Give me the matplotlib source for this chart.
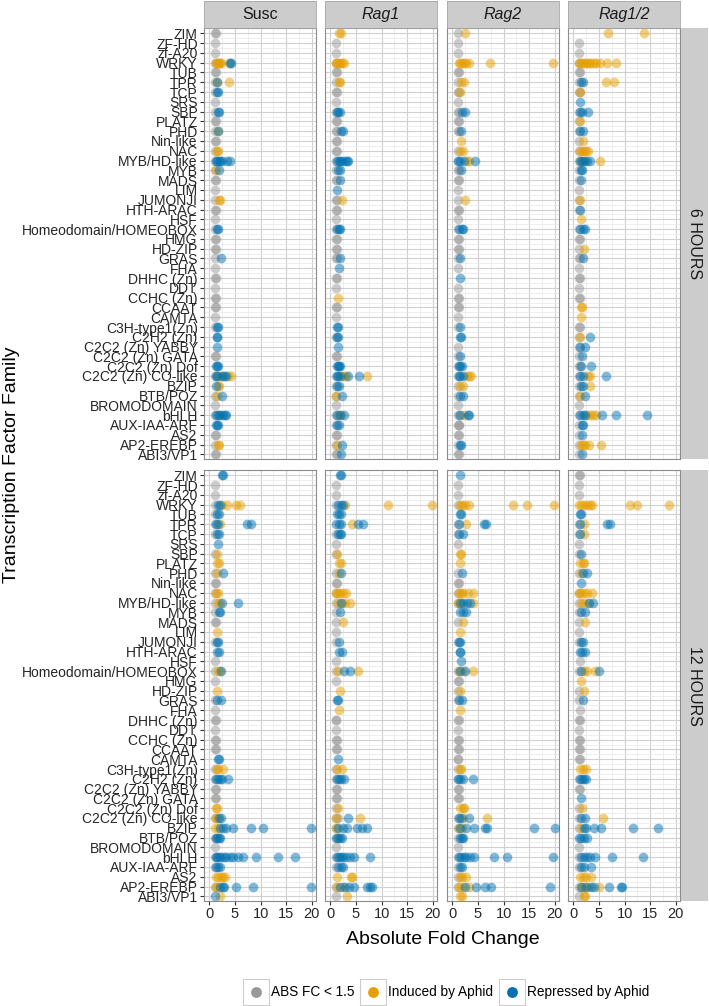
import numpy as np
import matplotlib
matplotlib.use("Agg")
import matplotlib.pyplot as plt
from matplotlib.patches import Rectangle
from matplotlib.lines import Line2D

plt.rcParams['font.family'] = ['Liberation Sans', 'DejaVu Sans']

#%% DATA
families = ['ZIM', 'ZF-HD', 'zf-A20', 'WRKY', 'TUB', 'TPR', 'TCP', 'SRS', 'SBP', 'PLATZ',
            'PHD', 'Nin-like', 'NAC', 'MYB/HD-like', 'MYB', 'MADS', 'LIM', 'JUMONJI',
            'HTH-ARAC', 'HSF', 'Homeodomain/HOMEOBOX', 'HMG', 'HD-ZIP', 'GRAS', 'FHA',
            'DHHC (Zn)', 'DDT', 'CCHC (Zn)', 'CCAAT', 'CAMTA', 'C3H-type1(Zn)', 'C2H2 (Zn)',
            'C2C2 (Zn) YABBY', 'C2C2 (Zn) GATA', 'C2C2 (Zn) Dof', 'C2C2 (Zn) CO-like', 'BZIP',
            'BTB/POZ', 'BROMODOMAIN', 'bHLH', 'AUX-IAA-ARF', 'AS2', 'AP2-EREBP', 'ABI3/VP1']
genotypes = ['Susc', 'Rag1', 'Rag2', 'Rag1/2']
timepoints = ['6 HOURS', '12 HOURS']
x_ticks = [0, 5, 10, 15, 20]

# one string per family: g = ABS FC < 1.5, o = induced, b = repressed (absolute fold change)
susc_6h = ["g:1.1,1.2", "g:1.1", "g:1.1", "g:1.1 o:1.2,1.4,1.6,1.8,2.0,2.2,3.8 b:4.0,4.3",
           "g:1.1,1.3", "g:1.1 o:1.5,3.8 b:1.5", "g:1.1 b:1.5,1.6", "g:1.1", "g:1.1 b:1.7,1.8",
           "g:1.1,1.3", "g:1.1 o:1.7 b:1.6", "g:1.1,1.2", "g:1.1 o:1.5,1.6",
           "g:1.1 b:1.2,1.5,1.8,2.1,2.4,3.5,4.0", "g:1.1 o:1.3 b:1.9", "g:1.1,1.3", "g:1.1",
           "g:1.1 o:1.8,2.1", "g:1.1,1.3", "g:1.1", "g:1.1 b:1.5,1.7", "g:1.1,1.3", "g:1.1,1.3",
           "g:1.1 b:2.3", "g:1.1", "g:1.1,1.3", "g:1.1", "g:1.1,1.3", "g:1.1,1.3", "g:1.1",
           "g:1.1 b:1.5,1.7", "b:1.4,1.5", "b:1.5", "g:1.1,1.3", "b:1.3,1.5,1.6",
           "g:1.1 o:1.6,2.0,3.7,4.2 b:1.2,1.5,2.4,2.9,3.3", "b:1.3 o:1.7,1.9",
           "g:1.1 o:1.4 b:2.4", "g:1.1", "g:1.1 o:1.9 b:1.2,1.6,2.1,2.6,3.0,3.3",
           "b:1.3,1.5,1.7", "g:1.1,1.3", "g:1.1 o:1.6,1.8", "g:1.1,1.3"]

rag1_6h = ["o:1.7,2.0", "g:1.0", "g:1.0", "g:1.0 o:1.0,1.3,1.6,1.9,2.2,2.6", "g:1.0,1.2",
           "g:1.0 o:1.7,1.9", "g:1.0,1.2", "g:1.0", "g:1.0 b:1.2,1.5,1.8", "g:1.0,1.2",
           "g:1.0,1.2 b:2.0,2.5", "g:1.0,1.2", "g:1.0,1.2", "g:1.0 b:1.3,1.6,1.9,2.3,2.8,3.2,3.4",
           "g:1.0 b:1.5,1.8", "g:1.0,1.2 b:1.9", "b:1.2", "g:1.0,1.2 o:2.2", "g:1.0,1.2", "g:1.0",
           "g:1.0 b:1.3,1.6,1.9", "g:1.0,1.2", "g:1.0,1.2", "g:1.0,1.2 b:1.9", "b:1.6", "g:1.0,1.2",
           "g:1.0", "o:1.4", "g:1.0,1.2", "g:1.0", "b:1.3,1.5", "g:1.0 b:1.3,1.5", "b:1.4",
           "g:1.0,1.2", "b:1.2,1.4,1.6,1.9", "g:1.0 o:2.2,2.6,3.0,7.2 b:1.2,1.5,1.9,3.4,5.6",
           "g:1.0 b:1.3,1.6", "g:1.0 o:1.1 b:2.2", "g:1.0", "g:1.0 o:1.6,2.1 b:1.3,1.9,2.6",
           "g:1.0 b:1.3,1.6", "g:1.0,1.2", "g:1.0 o:1.3 b:2.3", "g:1.0,1.2 b:2.0"]

rag2_6h = ["g:1.0 o:2.5", "g:1.0", "g:1.0", "o:1.2,1.5,1.8,2.2,2.6,3.2,7.4,19.7", "g:1.0,1.2",
           "g:1.0 o:1.6,2.2", "g:1.0,1.2 o:1.5", "g:1.0", "g:1.0,1.2 b:1.9,2.4", "g:1.0,1.2",
           "g:1.0,1.2 b:1.6", "o:1.6", "g:1.0 o:1.5,2.0", "g:1.0 o:2.9,3.3 b:1.0,1.5,2.3,4.5",
           "g:1.0,1.2 b:1.6", "g:1.0,1.2", "g:1.0", "g:1.0 o:2.5", "g:1.0,1.2", "g:1.0",
           "g:1.0 b:1.3,1.8,2.1", "g:1.0,1.2", "g:1.0,1.2", "g:1.0 b:1.4", "g:1.0", "b:1.4",
           "g:1.0", "g:1.0,1.2", "g:1.0,1.2", "g:1.0", "g:1.0 b:1.5", "b:1.4,1.6", "g:1.0",
           "g:1.0 b:1.5", "g:1.0 b:1.2,1.5,1.8", "g:1.0 o:2.8,3.3,3.7 b:1.2,1.5,2.1",
           "g:1.0 o:1.5,2.0", "g:1.0 b:1.5,2.0", "g:1.0", "g:1.0,1.2 o:2.2 b:1.5,3.1,3.2",
           "g:1.0,1.2,1.3", "g:1.0,1.2", "g:1.0 b:1.5,1.6", "g:1.0,1.2"]

rag12_6h = ["o:6.7,13.8", "g:1.0", "g:1.0",
            "g:1.0 o:1.1,1.5,1.9,2.3,2.7,3.1,3.5,4.0,4.5,5.2,6.5,8.4", "g:1.0,1.2",
            "g:1.0 o:6.4,8.0 b:1.4,1.8", "g:1.0,1.2 o:1.3", "b:1.3", "g:1.0 b:1.2,1.6,2.8",
            "g:1.0 o:1.3", "g:1.0 b:1.3,1.9", "g:1.0 o:1.9", "g:1.0 o:1.3,1.7,2.1,2.5,2.9",
            "g:1.0 o:1.5,2.3,5.2 b:1.2,1.6,2.1,2.7,3.3", "g:1.0 b:1.4,1.7", "g:1.0 b:1.4", "g:1.0",
            "g:1.0 o:1.3", "g:1.0 b:1.3", "o:1.4", "g:1.0 b:1.3,1.9,2.2", "g:1.0,1.2", "g:1.0 o:2.1",
            "g:1.0,1.2 b:1.8", "g:1.0", "g:1.0,1.2", "g:1.0", "g:1.0,1.2", "o:1.5,1.6", "o:1.4",
            "g:1.0,1.2", "g:1.0 o:1.3 b:3.2", "g:1.0 b:1.3,2.3", "g:1.0 b:1.6",
            "g:1.0,1.2 b:1.5,3.5", "g:1.0 o:2.8,3.3 b:1.3,1.8,6.3", "g:1.0 o:3.3 b:1.5,1.8",
            "g:1.0 o:1.3 b:2.2", "g:1.0", "g:1.0 o:2.6,3.2,3.8,4.5 b:1.3,1.8,2.2,5.6,8.4,14.4",
            "g:1.0 b:1.6,1.9", "g:1.0 b:1.6", "g:1.0 o:1.4,1.8,2.3,3.0,5.3", "g:1.0 b:1.7"]

susc_12h = ["b:2.5,2.7", "g:1.0", "g:1.0", "g:1.0 o:2.5,3.5,5.2,5.9 b:1.6,2.0", "g:1.0 b:1.5,1.8",
            "g:1.0 o:2.0 b:1.2,1.6,7.4,8.2", "g:1.0 b:1.4,1.9", "b:1.6", "g:1.0 o:1.5", "o:1.4,1.8",
            "g:1.0 o:1.5 b:2.7", "g:1.0,1.2", "g:1.0 o:1.3,1.7", "g:1.0 o:1.6,2.0 b:2.5,5.6",
            "g:1.0 b:1.8,2.1", "g:1.0,1.2", "o:1.4", "g:1.0 b:1.4,1.6", "b:1.4,1.9", "g:1.0",
            "g:1.0 o:1.6,2.0 b:2.3", "g:1.0", "o:1.4", "g:1.0 b:1.4,2.3", "g:1.0", "g:1.0,1.2",
            "g:1.0", "g:1.0,1.2", "g:1.0,1.2", "b:1.7,1.9", "g:1.0 o:1.4,1.6,2.6",
            "g:1.0 b:1.2,1.6,2.0,2.5,3.6", "g:1.0,1.2", "g:1.0,1.2", "o:1.3,1.5",
            "g:1.0 o:1.2,1.5 b:1.8,2.2", "o:1.1,1.6 b:2.0,2.6,3.3,4.6,8.2,10.5,19.9",
            "g:1.0 b:1.2,1.5,1.8,2.1", "g:1.0",
            "g:1.0 b:1.2,1.5,1.9,2.3,2.8,3.3,4.0,4.7,5.5,6.5,9.0,13.3,16.8", "g:1.0 b:1.3,1.7,2.0",
            "o:1.2,1.7,2.2,2.6,3.0", "g:1.0 o:1.3,1.7 b:2.0,2.6,2.9,5.2,8.6,19.9", "b:1.1 o:2.0"]

rag1_12h = ["b:1.8,2.0", "g:1.0", "g:1.0", "g:1.0 o:2.9,11.2,19.9 b:1.5,2.0,2.5", "b:1.3,1.7,2.1",
            "o:4.3 b:1.1,1.6,2.1,5.4,6.3", "g:1.0 b:1.4,1.8,2.1", "g:1.0", "g:1.0 o:1.2", "o:1.6,2.1",
            "g:1.0 o:1.7 b:2.0", "g:1.0,1.2", "g:1.0 o:1.1,1.5,1.9,2.4,3.0",
            "g:1.0 o:1.5,2.2,2.8,3.8 b:2.1", "g:1.0 b:1.8", "g:1.0 o:2.5", "g:1.0", "g:1.0 b:1.6",
            "b:1.6,2.2", "g:1.0", "g:1.0 o:1.4,5.3 b:2.7,3.9", "g:1.0", "o:1.8", "b:1.3,1.4", "o:1.6",
            "g:1.0,1.1", "g:1.0", "g:1.0,1.2", "g:1.0,1.2", "b:1.4", "g:1.0 o:1.2,2.3",
            "g:1.0 b:1.2,1.6,2.1,2.6", "g:1.0,1.2", "g:1.0,1.2", "g:1.0 o:1.4",
            "g:1.0,1.4 o:1.1,5.7 b:3.5", "g:1.0 o:1.1 b:1.5,2.4,3.2,5.1,6.1,7.2",
            "o:1.2 b:1.1,1.4,1.8,2.2", "g:1.0", "g:1.0 b:1.2,1.6,2.0,2.5,3.1,3.9,4.6,7.7",
            "g:1.0 b:1.4,2.0,2.4", "o:1.2,4.0,4.3", "g:1.0 o:1.3,2.5 b:1.9,2.8,3.7,4.7,7.2,7.8,8.1",
            "g:1.0 o:3.3"]

rag2_12h = ["b:1.4", "g:1.0", "g:1.0", "g:1.0 o:1.5,1.9,2.5,3.2,11.9,14.5,19.9", "b:1.5,1.7",
            "g:1.0 o:2.7 b:1.2,6.1,6.6", "g:1.0 b:1.2,2.0", "g:1.0", "o:1.5,1.6", "o:1.5",
            "g:1.0 b:1.8", "g:1.0,1.2", "g:1.0 o:1.2,1.6,2.1,3.0,4.0",
            "g:1.0 o:1.1,1.7,4.0 b:1.5,2.1,2.8,3.5", "b:1.5,2.0,2.6", "g:1.0 o:2.0", "o:1.5",
            "g:1.0 b:1.3,1.5", "b:1.4,1.5", "b:1.7", "g:1.0 o:1.3,2.0,4.1 b:1.5,2.4", "g:1.0,1.2",
            "g:1.0 o:1.4", "g:1.0 b:1.3,1.8", "o:1.4", "g:1.0,1.2", "g:1.0", "g:1.0,1.2", "g:1.0,1.2",
            "g:1.0,1.1", "g:1.0 o:1.5,1.7", "g:1.0 b:1.1,1.5,2.0,4.1", "g:1.0,1.2", "g:1.0,1.2",
            "o:1.5,2.0,2.2", "g:1.0 o:2.0,6.8 b:1.3,1.6,3.3",
            "g:1.0 o:1.3,1.8 b:1.5,2.6,4.3,6.4,6.8,16.0,20.0", "g:1.0 b:1.5,1.8,2.1", "g:1.0",
            "g:1.0 b:1.3,1.7,2.2,2.7,3.4,4.2,8.1,10.7,19.6", "g:1.0 b:1.5,1.9", "g:1.0 o:1.4,1.9,2.6",
            "g:1.0 o:1.3,1.9,3.3 b:2.5,4.7,6.3,7.5,19.0", "o:1.5,1.9"]

rag12_12h = ["g:1.0,1.2", "g:1.0", "g:1.0", "o:1.1,1.5,2.0,2.6,3.2,3.7,11.0,12.4,18.7", "b:1.2,1.5",
             "g:1.0 o:2.0 b:1.3,6.6,7.1", "g:1.0 o:2.0 b:1.2", "g:1.0", "g:1.0 b:1.5",
             "o:1.3,1.8,2.0", "g:1.0 o:1.4 b:1.9,2.6", "b:1.5", "g:1.0 o:1.1,1.5,2.0,2.6,3.6",
             "g:1.0 o:1.5,2.0,2.8 b:3.0,3.9", "g:1.0 b:1.5,2.2", "g:1.0 o:2.2", "g:1.0",
             "g:1.0 b:1.5,1.8", "b:1.3,1.7,2.3", "g:1.2", "g:1.0 o:2.1,2.7,4.2 b:1.5,5.0", "o:1.4",
             "g:1.0 o:2.0", "g:1.0 b:1.8", "g:1.2", "g:1.0,1.2", "g:1.0", "g:1.0,1.2", "g:1.0,1.2",
             "g:1.0,1.2", "o:1.3,1.8,2.5", "g:1.0 b:1.2,1.6,2.0,2.5", "g:1.0,1.2", "b:1.4",
             "g:1.0 o:1.7", "g:1.0 o:5.8 b:1.4,2.3", "g:1.0 o:1.4 b:2.0,2.5,4.0,5.3,11.7,16.6",
             "b:1.1,1.5,2.0,2.6", "g:1.0", "g:1.0 b:1.5,2.0,2.6,3.2,4.2,7.5,13.5",
             "g:1.0 b:1.5,2.0,3.5", "o:1.2,1.8,2.4,3.5",
             "g:1.0 o:1.6,2.1,2.9,5.0 b:1.5,2.5,3.4,4.0,6.9,9.2,9.4", "g:1.0 o:2.0,2.3"]

panels = {
    ('6 HOURS', 'Susc'): susc_6h, ('6 HOURS', 'Rag1'): rag1_6h,
    ('6 HOURS', 'Rag2'): rag2_6h, ('6 HOURS', 'Rag1/2'): rag12_6h,
    ('12 HOURS', 'Susc'): susc_12h, ('12 HOURS', 'Rag1'): rag1_12h,
    ('12 HOURS', 'Rag2'): rag2_12h, ('12 HOURS', 'Rag1/2'): rag12_12h,
}

classes = ['g', 'o', 'b']
class_labels = {'g': 'ABS FC < 1.5', 'o': 'Induced by Aphid', 'b': 'Repressed by Aphid'}
class_colors = {'g': '#999999', 'o': '#E69F00', 'b': '#0072B2'}


def parse(cell):
    out = {k: [] for k in classes}
    for tok in cell.split():
        k, vals = tok.split(':')
        out[k] += [float(v) for v in vals.split(',')]
    return out


#%% LAYOUT (pixels)
W, H = 709, 1006
fig = plt.figure(figsize=(W / 100, H / 100), dpi=100)


def rect(x0, y0, x1, y1):
    return [x0 / W, 1 - y1 / H, (x1 - x0) / W, (y1 - y0) / H]


col_x = [(204, 316), (325, 437), (447, 559), (568, 680)]
row_y = [(28, 459), (470, 901)]
strip_col = '#cccccc'

for r, tp in enumerate(timepoints):
    for c, gt in enumerate(genotypes):
        ax = fig.add_axes(rect(col_x[c][0], row_y[r][0], col_x[c][1], row_y[r][1]))
        cells = [parse(s) for s in panels[(tp, gt)]]
        for k in classes:
            xs, ys = [], []
            for i, cell in enumerate(cells):
                xs += cell[k]
                ys += [i] * len(cell[k])
            ax.scatter(xs, ys, s=48, color=class_colors[k], alpha=0.5, linewidths=0, zorder=3)

        ax.set_xlim(-1.05, 20.8)
        ax.set_ylim(len(families) - 0.52, -0.54)
        ax.set_xticks(x_ticks)
        ax.set_xticks([2.5, 7.5, 12.5, 17.5], minor=True)
        ax.set_yticks(range(len(families)))
        ax.set_yticks(np.arange(0.5, len(families) - 1, 1), minor=True)
        ax.grid(which='major', color='#d0d0d0', lw=0.8)
        ax.grid(which='minor', color='#e7e7e7', lw=0.5)
        ax.set_axisbelow(True)
        ax.tick_params(which='minor', length=0)
        ax.tick_params(which='major', length=3, width=0.8, color='#333333',
                       labelsize=10, labelcolor='#262626', pad=1.5)
        for sp in ax.spines.values():
            sp.set_color('#8c8c8c')
            sp.set_linewidth(0.8)

        if c == 0:
            ax.set_yticklabels(families)
        else:
            ax.set_yticklabels([])
            ax.tick_params(axis='y', length=0)
        if r == 1:
            ax.set_xticklabels([str(t) for t in x_ticks])
            ax.tick_params(axis='x', labelsize=10.5)
        else:
            ax.set_xticklabels([])
            ax.tick_params(axis='x', length=0)

        # top strips
        if r == 0:
            sax = fig.add_axes(rect(col_x[c][0], 1, col_x[c][1], 28))
            sax.set_facecolor(strip_col)
            sax.set_xticks([]); sax.set_yticks([])
            for sp in sax.spines.values():
                sp.set_color('#a6a6a6'); sp.set_linewidth(0.6)
            sax.text(0.5, 0.5, gt, ha='center', va='center', fontsize=11.5, color='#1a1a1a',
                     style='normal' if gt == 'Susc' else 'italic', transform=sax.transAxes)

    # right strips
    rax = fig.add_axes(rect(681, row_y[r][0], 708, row_y[r][1]))
    rax.set_facecolor(strip_col)
    rax.set_xticks([]); rax.set_yticks([])
    for sp in rax.spines.values():
        sp.set_visible(False)
    rax.text(0.5, 0.5, tp, ha='center', va='center', rotation=-90, fontsize=11.5,
             color='#1a1a1a', transform=rax.transAxes)

fig.text(12 / W, 1 - 465 / H, 'Transcription Factor Family', rotation=90,
         ha='center', va='center', fontsize=14)
fig.text(443 / W, 1 - 940 / H, 'Absolute Fold Change', ha='center', va='center', fontsize=14)

# legend
key_x = [243, 360, 499]
for kx, k in zip(key_x, classes):
    fig.patches.append(Rectangle((kx / W, 1 - 1005 / H), 26 / W, 26 / H, transform=fig.transFigure,
                                 facecolor='white', edgecolor='#cccccc', lw=0.8))
    fig.lines.append(Line2D([(kx + 13) / W], [1 - 992 / H], transform=fig.transFigure,
                            marker='o', markersize=7.8, color=class_colors[k], lw=0, mew=0))
    fig.text((kx + 28) / W, 1 - 992 / H, class_labels[k], ha='left', va='center', fontsize=9.8)

fig.savefig('out.png', dpi=100)
